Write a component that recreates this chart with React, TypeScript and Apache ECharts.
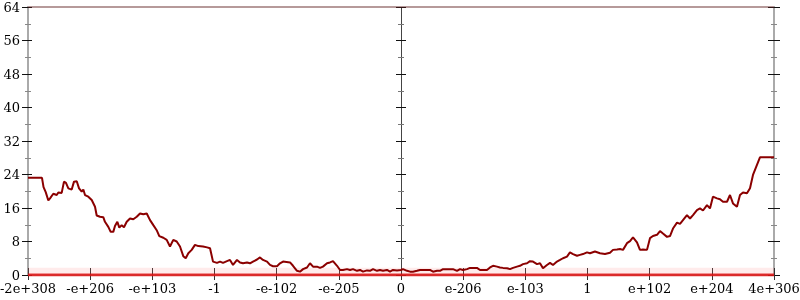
import React, { useEffect, useRef } from "react";
import * as echarts from "echarts";

const xTickLabels = ["-2e+308", "-e+206", "-e+103", "-1", "-e-102", "-e-205", "0", "e-206", "e-103", "1", "e+102", "e+204", "4e+306"];
const yTicks = [0, 8, 16, 24, 32, 40, 48, 56, 64];

const lineX = [
  -6.0, -5.775, -5.75, -5.715, -5.673, -5.646, -5.593, -5.538, -5.512, -5.458, -5.421, -5.389, -5.351, -5.297, -5.26, -5.216,
  -5.179, -5.136, -5.11, -5.083, -5.03, -4.975, -4.922, -4.895, -4.842, -4.789, -4.762, -4.708, -4.67, -4.628, -4.601, -4.563,
  -4.531, -4.493, -4.456, -4.412, -4.359, -4.306, -4.251, -4.198, -4.145, -4.09, -4.037, -3.984, -3.93, -3.888, -3.823, -3.769,
  -3.716, -3.663, -3.608, -3.555, -3.502, -3.463, -3.421, -3.367, -3.314, -3.26, -3.185, -3.12, -3.072, -3.024, -2.96, -2.911,
  -2.863, -2.799, -2.751, -2.702, -2.638, -2.59, -2.541, -2.477, -2.429, -2.381, -2.316, -2.268, -2.22, -2.155, -2.107, -2.059,
  -1.995, -1.946, -1.898, -1.785, -1.737, -1.673, -1.625, -1.576, -1.512, -1.464, -1.415, -1.351, -1.303, -1.255, -1.19, -1.142,
  -1.094, -1.029, -0.981, -0.933, -0.869, -0.82, -0.772, -0.708, -0.659, -0.611, -0.547, -0.499, -0.45, -0.386, -0.338, -0.29,
  -0.225, -0.177, -0.129, -0.064, 0,
  0.032, 0.097, 0.145, 0.193, 0.257, 0.306, 0.354, 0.418, 0.466, 0.515, 0.579, 0.627, 0.676, 0.74, 0.788, 0.836, 0.901, 0.949,
  0.997, 1.062, 1.11, 1.158, 1.222, 1.271, 1.319, 1.383, 1.432, 1.48, 1.544, 1.592, 1.641, 1.705, 1.753, 1.802, 1.866, 1.914,
  1.962, 2.027, 2.075, 2.123, 2.188, 2.236, 2.284, 2.348, 2.397, 2.445, 2.509, 2.558, 2.606, 2.67, 2.718, 2.767, 2.831, 2.879,
  2.927, 2.992, 3.04, 3.12, 3.201, 3.281, 3.362, 3.41, 3.474, 3.523, 3.571, 3.635, 3.684, 3.732, 3.796, 3.844, 3.893, 3.957,
  4.005, 4.053, 4.118, 4.166, 4.214, 4.279, 4.327, 4.375, 4.44, 4.488, 4.536, 4.6, 4.649, 4.697, 4.761, 4.809, 4.858, 4.922,
  4.97, 5.018, 5.083, 5.131, 5.179, 5.244, 5.292, 5.34, 5.404, 5.453, 5.501, 5.565, 5.614, 5.662, 5.726, 5.774, 6.0,
];
const lineY = [
  23.2, 23.2, 21, 19.8, 17.8, 18.3, 19.4, 19.1, 19.7, 19.6, 22.3, 22.0, 20.7, 20.4, 22.3, 22.4,
  20.7, 19.9, 20.4, 19.1, 18.7, 17.9, 16.3, 14.2, 13.9, 13.8, 12.7, 11.5, 10.3, 10.3, 11.7, 12.7,
  11.3, 11.9, 11.4, 12.7, 13.5, 13.3, 13.9, 14.7, 14.5, 14.7, 13.1, 11.9, 10.7, 9.3, 8.9, 8.4,
  6.8, 8.4, 8.0, 6.8, 4.5, 4.0, 5.2, 6.0, 7.2, 6.9, 6.8, 6.6, 6.4, 3.2, 2.9, 3.2,
  2.9, 3.3, 3.6, 2.4, 3.6, 3.0, 2.8, 3.0, 2.8, 3.2, 3.7, 4.2, 3.6, 3.2, 2.4, 2.1,
  2.1, 2.8, 3.2, 3.0, 2.2, 1.0, 0.8, 1.4, 1.8, 2.8, 2.0, 2.0, 1.7, 2.0, 2.8, 3.0,
  3.3, 2.2, 1.2, 1.2, 1.4, 1.2, 1.4, 1.0, 1.2, 0.8, 1.1, 1.0, 1.4, 1.0, 1.2, 1.0,
  1.2, 0.8, 1.2, 1.1, 1.2,
  1.4, 1.0, 0.8, 0.8, 1.0, 1.2, 1.2, 1.2, 1.2, 0.8, 1.0, 1.0, 1.4, 1.4, 1.4, 1.4, 1.0, 1.4,
  1.2, 1.4, 1.7, 1.7, 1.7, 1.2, 1.2, 1.2, 1.8, 2.2, 2.0, 1.8, 1.7, 1.6, 1.4, 1.7, 2.0, 2.2,
  2.6, 2.8, 3.3, 3.2, 2.6, 2.8, 1.6, 2.4, 2.9, 2.4, 3.2, 3.6, 4.0, 4.4, 5.4, 5.0, 4.6, 4.8,
  5.0, 5.4, 5.2, 5.6, 5.2, 5.0, 5.3, 6.0, 6.1, 6.2, 6.0, 7.6, 8.1, 9.0, 7.8, 6.0, 6.1, 6.0,
  8.8, 9.3, 9.6, 10.5, 9.9, 9.1, 9.3, 11.1, 12.5, 12.2, 13.1, 14.3, 13.5, 14.3, 15.5, 15.9, 15.4, 16.7,
  15.9, 18.7, 18.3, 18.1, 17.5, 17.5, 19.1, 17.1, 16.3, 19.1, 19.7, 19.5, 20.7, 23.9, 26.3, 28.1, 28.1,
];

const xRange = [-6, 6];
const zeroBand = [0, 0];
const nearZeroBand = [1, 1];
const topBand = [64, 64];

const FONT = "DejaVu Serif";

export default function App() {
  const ref = useRef<HTMLDivElement>(null);
  useEffect(() => {
    if (!ref.current) return;
    const chart = echarts.init(ref.current, null, { renderer: "svg" });
    const fmt = (v: number) => xTickLabels[Math.round(v) + 6] ?? "";
    const baseX = { type: "value", min: -6, max: 6, interval: 1, splitLine: { show: false } };
    const baseY = { type: "value", min: yTicks[0], max: yTicks[yTicks.length - 1], interval: 8, splitLine: { show: false }, minorSplitLine: { show: false } };
    const band = (ys: number[], color: string, width: number) => ({
      type: "line",
      data: xRange.map((x, i) => [x, ys[i]]),
      showSymbol: false,
      silent: true,
      lineStyle: { color, width },
      z: 3,
    });
    chart.setOption({
      animation: false,
      grid: { left: 28, right: 26, top: 7, bottom: 25, outerBoundsMode: "none" },
      xAxis: [
        {
          ...baseX,
          position: "bottom",
          axisLine: { onZero: false, lineStyle: { color: "#aaa", width: 2 } },
          axisTick: { length: 5, lineStyle: { color: "#333" } },
          axisLabel: { formatter: fmt, fontFamily: FONT, fontSize: 13, color: "#000", margin: 7 },
        },
        {
          ...baseX,
          position: "bottom",
          axisLine: { show: false, onZero: false },
          axisTick: { inside: true, length: 7, lineStyle: { color: "#333" } },
          axisLabel: { show: false },
        },
        {
          ...baseX,
          position: "top",
          axisLine: { onZero: false, lineStyle: { color: "#aaa", width: 2 } },
          axisTick: { show: false },
          axisLabel: { show: false },
        },
      ],
      yAxis: [
        {
          ...baseY,
          position: "left",
          axisLine: { onZero: false, lineStyle: { color: "#aaa", width: 2 } },
          axisTick: { length: 6, lineStyle: { color: "#111" } },
          minorTick: { show: true, splitNumber: 2, length: 3, lineStyle: { color: "#888" } },
          axisLabel: { fontFamily: FONT, fontSize: 13, color: "#000", margin: 8 },
        },
        {
          ...baseY,
          position: "left",
          axisLine: { show: false, onZero: false },
          axisTick: { inside: true, length: 4, lineStyle: { color: "#111" } },
          minorTick: { show: true, splitNumber: 2, length: 3, lineStyle: { color: "#888" } },
          axisLabel: { show: false },
        },
        {
          ...baseY,
          position: "right",
          axisLine: { onZero: false, lineStyle: { color: "#aaa", width: 2 } },
          axisTick: { length: 6, lineStyle: { color: "#111" } },
          minorTick: { show: true, splitNumber: 2, length: 3, lineStyle: { color: "#888" } },
          axisLabel: { show: false },
        },
        {
          ...baseY,
          position: "right",
          axisLine: { show: false, onZero: false },
          axisTick: { inside: true, length: 6, lineStyle: { color: "#111" } },
          minorTick: { show: true, splitNumber: 2, length: 3, lineStyle: { color: "#888" } },
          axisLabel: { show: false },
        },
        {
          ...baseY,
          position: "left",
          axisLine: { onZero: true, onZeroAxisIndex: 0, lineStyle: { color: "#444", width: 1 } },
          axisTick: { length: 5, lineStyle: { color: "#111" } },
          minorTick: { show: true, splitNumber: 2, length: 3, lineStyle: { color: "#777" } },
          axisLabel: { show: false },
        },
        {
          ...baseY,
          position: "left",
          axisLine: { show: false, onZero: true, onZeroAxisIndex: 0 },
          axisTick: { inside: true, length: 5, lineStyle: { color: "#111" } },
          minorTick: { show: true, splitNumber: 2, length: 3, lineStyle: { color: "#777" } },
          axisLabel: { show: false },
        },
      ],
      series: [
        band(nearZeroBand, "rgba(255,110,110,0.14)", 6),
        band(topBand, "rgba(255,60,60,0.14)", 2),
        band(zeroBand, "rgba(228,20,20,0.85)", 3),
        {
          type: "line",
          data: lineX.map((x, i) => [x, lineY[i]]),
          showSymbol: false,
          silent: true,
          lineStyle: { color: "#8b0000", width: 2 },
          z: 5,
        },
      ],
    });
    return () => chart.dispose();
  }, []);
  return <div ref={ref} style={{ position: "fixed", left: 0, top: 0, width: 800, height: 300 }} />;
}
